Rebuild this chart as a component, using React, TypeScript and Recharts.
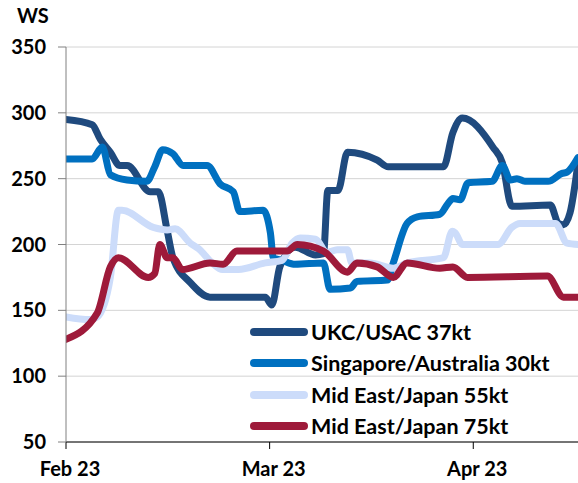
import { CartesianGrid, Line, LineChart, XAxis, YAxis } from "recharts";

// x = days after 1 Feb 23 (axis ticks at month starts)
const monthTicks = [0, 28, 56];
const monthLabels = ["Feb 23", "Mar 23", "Apr 23"];
const wsTicks = [50, 100, 150, 200, 250, 300, 350];

const ukcUsac: [number, number][] = [
  [0, 295], [3.6, 291], [4.7, 280], [6.1, 270], [7.4, 260], [8.4, 260], [11.6, 240],
  [12.7, 240], [13.9, 211], [14.7, 190], [17.1, 171], [19.8, 160], [27.4, 160],
  [28.3, 154], [29.4, 183], [31.5, 198], [34.3, 192], [35.4, 193], [36, 241],
  [37.4, 241], [38.7, 270], [42.8, 264], [44.3, 259], [51.9, 259], [53.2, 285],
  [54.5, 296], [58.7, 274], [60, 262], [61.3, 229], [66.6, 230], [67.7, 216],
  [68.4, 215], [69.3, 224], [70.4, 262],
];

const singAus: [number, number][] = [
  [0, 265], [3.6, 265], [5, 274], [6.1, 253], [8.4, 249], [11.1, 248], [12.2, 259],
  [13.3, 272], [14.7, 269], [16.1, 260], [19.4, 260], [21.2, 246], [23, 240],
  [23.9, 225], [27.1, 226], [28.1, 209], [28.5, 190], [29.7, 188], [31.5, 185],
  [35.4, 186], [36.3, 166], [39.1, 167], [40, 172], [44.2, 173], [45, 186],
  [46.9, 216], [48.3, 221], [51.4, 223], [52.5, 231], [53.2, 235], [54.2, 234],
  [55.3, 247], [58.6, 248], [60, 260], [61.1, 249], [62, 250], [63.1, 248],
  [66.3, 248], [68.2, 254], [68.9, 255], [70.4, 266],
];

const meJapan55: [number, number][] = [
  [0, 145], [3.3, 143], [4.3, 145], [6.1, 175], [7.2, 226], [7.7, 226], [12, 213],
  [13.9, 211], [15, 212], [17.1, 201], [18.2, 197], [20.1, 186], [21.5, 181],
  [23.7, 181], [27.4, 186], [29.7, 188], [31.1, 201], [32.2, 205], [34.3, 204],
  [35.9, 194], [37.3, 196], [38.7, 196], [39.3, 186], [41.8, 186], [45, 182],
  [46.9, 186], [51.9, 190], [53.1, 210], [53.5, 209], [54.5, 200], [59.4, 200],
  [61.3, 213], [62.4, 216], [67.3, 216], [68.9, 201], [70.4, 200],
];

const meJapan75: [number, number][] = [
  [0, 128], [4.3, 148], [6.1, 183], [7.2, 190], [11.3, 175], [12.2, 178], [12.9, 200],
  [13.9, 190], [14.7, 190], [16, 181], [19.8, 186], [21.6, 185], [23.5, 195],
  [30.4, 195], [31.8, 200], [35.4, 195], [38.7, 179], [40, 186], [42.8, 183],
  [45, 175], [46.9, 186], [51.4, 182], [53.2, 183], [55.2, 175], [66.2, 176],
  [68.4, 160], [70.4, 160],
];

const series = [
  { name: "UKC/USAC 37kt", color: "#1F4A7E", points: ukcUsac },
  { name: "Singapore/Australia 30kt", color: "#0070C0", points: singAus },
  { name: "Mid East/Japan 55kt", color: "#CCDCFA", points: meJapan55 },
  { name: "Mid East/Japan 75kt", color: "#9E1A3A", points: meJapan75 },
];

const font = "Lato, 'Noto Sans', sans-serif";
const tickStyle = { fill: "#000000", fontSize: 20, fontWeight: 700, fontFamily: font };

// legend sits inside the plot, bottom right, no background
function LegendBox() {
  return (
    <div
      style={{
        position: "absolute",
        left: 250,
        top: 316,
        fontFamily: font,
        fontWeight: 700,
        fontSize: 21.5,
        color: "#000",
        whiteSpace: "nowrap",
      }}
    >
      {series.map((s) => (
        <div key={s.name} style={{ display: "flex", alignItems: "center", height: 31.5 }}>
          <span
            style={{
              display: "inline-block",
              width: 58,
              height: 8,
              borderRadius: 4,
              background: s.color,
              marginRight: 3,
            }}
          />
          <span>{s.name}</span>
        </div>
      ))}
    </div>
  );
}

export default function App() {
  return (
    <div style={{ position: "relative", width: 578, height: 483, background: "#fff" }}>
      <style>{"body{margin:0}"}</style>
      <div
        style={{
          position: "absolute",
          left: 17,
          top: 3,
          fontFamily: font,
          fontWeight: 700,
          fontSize: 20,
        }}
      >
        WS
      </div>
      <LineChart width={578} height={483} margin={{ top: 47, right: 0, bottom: 0, left: 0 }}>
        <CartesianGrid vertical={false} stroke="#D4D4D4" />
        <XAxis
          type="number"
          dataKey="d"
          domain={[0, 70.4]}
          ticks={monthTicks}
          tickFormatter={(v) => monthLabels[monthTicks.indexOf(Number(v))] ?? ""}
          height={41}
          tickSize={7}
          tickMargin={13}
          stroke="#000000"
          tick={tickStyle}
          dx={4}
          allowDataOverflow
        />
        <YAxis
          type="number"
          domain={[50, 350]}
          ticks={wsTicks}
          width={66}
          tickSize={8}
          tickMargin={12}
          stroke="#808080"
          tick={tickStyle}
          interval={0}
        />
        {series.map((s) => (
          <Line
            key={s.name}
            data={s.points.map(([d, v]) => ({ d, v }))}
            dataKey="v"
            name={s.name}
            type="monotone"
            stroke={s.color}
            strokeWidth={7}
            strokeLinecap="round"
            strokeLinejoin="round"
            dot={false}
            activeDot={false}
            isAnimationActive={false}
          />
        ))}
      </LineChart>
      <LegendBox />
    </div>
  );
}
